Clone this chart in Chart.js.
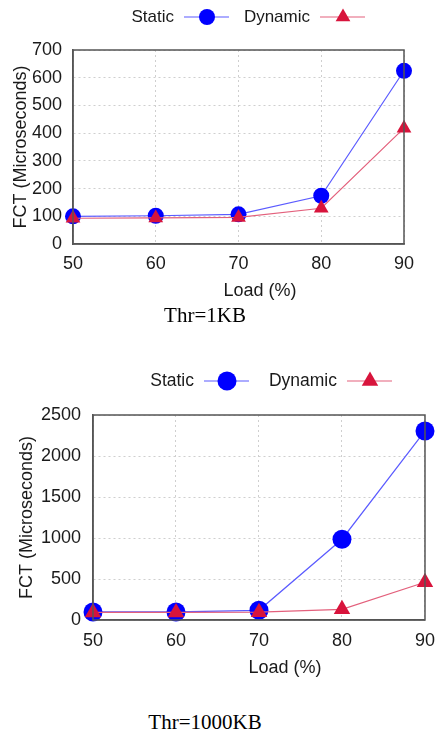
<!DOCTYPE html>
<html>
<head>
<meta charset="utf-8">
<script src="https://cdn.jsdelivr.net/npm/chart.js@4"></script>
<style>
  html, body { margin: 0; padding: 0; background: #fff; }
  body { width: 445px; height: 732px; position: relative; overflow: hidden; }
  .wrap { position: absolute; left: 0; width: 445px; }
  .caption {
    position: absolute; left: 0; width: 410px; text-align: center;
    font-family: "Liberation Serif", "Times New Roman", serif;
    font-size: 21px; line-height: 21px; color: #000;
  }
</style>
</head>
<body>
<div class="wrap" style="top:0;height:305px"><canvas id="chart1" width="445" height="305"></canvas></div>
<div class="caption" style="top:305px">Thr=1KB</div>
<div class="wrap" style="top:340px;height:345px"><canvas id="chart2" width="445" height="345"></canvas></div>
<div class="caption" style="top:712px">Thr=1000KB</div>
<script>
const loads = ['50', '60', '70', '80', '90'];
const seriesNames = ['Static', 'Dynamic'];

// Thr=1KB
const static1 = [100, 102, 107, 174, 625];
const dynamic1 = [93, 94, 96, 129, 418];
const yTicks1 = [0, 100, 200, 300, 400, 500, 600, 700];

// Thr=1000KB
const static2 = [98, 98, 118, 985, 2305];
const dynamic2 = [92, 92, 95, 130, 460];
const yTicks2 = [0, 500, 1000, 1500, 2000, 2500];

const textColor = '#1a1a1a';
const frameColor = '#555';
const fontFamily = '"Liberation Sans", Arial, sans-serif';

// gnuplot style key (text, then line sample with marker) and the x title,
// which gnuplot puts a bit right of the plot centre
const keyPlugin = {
    id: 'gnuKey',
    afterDraw(chart, args, opts) {
        const ctx = chart.ctx;
        ctx.save();
        ctx.textBaseline = 'middle';
        ctx.fillStyle = textColor;
        ctx.font = '18px ' + fontFamily;
        ctx.textAlign = 'center';
        ctx.fillText(opts.xTitle, opts.xTitleX, opts.xTitleY);

        ctx.font = opts.fontSize + 'px ' + fontFamily;
        ctx.textAlign = 'right';
        chart.data.datasets.forEach((ds, i) => {
            const tr = opts.textRight[i];
            ctx.fillStyle = textColor;
            ctx.fillText(ds.label, tr, opts.y);
            ctx.strokeStyle = ds.borderColor;
            ctx.lineWidth = ds.borderWidth;
            ctx.beginPath();
            ctx.moveTo(tr + 10, opts.y);
            ctx.lineTo(tr + 55, opts.y);
            ctx.stroke();
            ctx.fillStyle = ds.pointBackgroundColor;
            ctx.strokeStyle = ds.pointBackgroundColor;
            Chart.helpers.drawPoint(ctx, {
                pointStyle: ds.pointStyle,
                radius: ds.pointRadius,
                rotation: 0,
                borderWidth: 0
            }, tr + 33, opts.y);
        });
        ctx.restore();
    }
};

// box around the plot area
const framePlugin = {
    id: 'frame',
    afterDatasetsDraw(chart) {
        const a = chart.chartArea;
        const ctx = chart.ctx;
        ctx.save();
        ctx.strokeStyle = frameColor;
        ctx.lineWidth = 1.5;
        ctx.strokeRect(a.left, a.top, a.right - a.left, a.bottom - a.top);
        ctx.restore();
    }
};

function makeChart(id, s, d, yTicks, cfg) {
    const ctx = document.getElementById(id).getContext('2d');
    return new Chart(ctx, {
        type: 'line',
        data: {
            labels: loads,
            datasets: [{
                label: seriesNames[0],
                data: s,
                borderColor: '#5b5bff',
                borderWidth: 1.2,
                pointStyle: 'circle',
                pointRadius: cfg.circleR,
                pointBackgroundColor: '#0000ff',
                pointBorderColor: '#0000ff',
                pointBorderWidth: 0,
                tension: 0,
                fill: false,
                order: 2,
            }, {
                label: seriesNames[1],
                data: d,
                borderColor: '#e3607c',
                borderWidth: 1.2,
                pointStyle: 'triangle',
                pointRadius: cfg.triR,
                pointBackgroundColor: '#d8143c',
                pointBorderColor: '#d8143c',
                pointBorderWidth: 0,
                tension: 0,
                fill: false,
                order: 1,
            }]
        },
        options: {
            responsive: false,
            animation: false,
            events: [],
            clip: false,
            layout: {
                padding: { left: 5, right: cfg.padRight, top: cfg.padTop, bottom: 0 }
            },
            scales: {
                x: {
                    offset: false,
                    afterFit: (scale) => { scale.height = cfg.xHeight; },
                    ticks: {
                        color: textColor,
                        padding: cfg.xTickPad,
                        maxRotation: 0,
                        font: { family: fontFamily, size: 18 }
                    },
                    grid: {
                        display: true,
                        drawTicks: false,
                        color: '#cfcfcf',
                        lineWidth: 1,
                    },
                    border: { display: true, color: frameColor, width: 1.5, dash: [2, 3] },
                    title: { display: false }
                },
                y: {
                    min: yTicks[0],
                    max: yTicks[yTicks.length - 1],
                    afterFit: (scale) => { scale.width = cfg.yWidth; },
                    afterBuildTicks: (scale) => { scale.ticks = yTicks.map(v => ({ value: v })); },
                    ticks: {
                        color: textColor,
                        padding: cfg.yTickPad,
                        font: { family: fontFamily, size: 18 },
                        callback: (v) => String(v)
                    },
                    grid: {
                        display: true,
                        drawTicks: false,
                        color: '#cfcfcf',
                        lineWidth: 1,
                    },
                    border: { display: true, color: frameColor, width: 1.5, dash: [2, 3] },
                    title: {
                        display: true,
                        text: 'FCT (Microseconds)',
                        color: textColor,
                        padding: { top: cfg.yTitlePad, bottom: 0 },
                        font: { family: fontFamily, size: 18 }
                    }
                }
            },
            plugins: {
                legend: { display: false },
                tooltip: { enabled: false },
                gnuKey: {
                    y: cfg.keyY, textRight: cfg.keyRight, fontSize: cfg.keyFont,
                    xTitle: 'Load (%)', xTitleX: cfg.xTitleX, xTitleY: cfg.xTitleY
                }
            }
        },
        plugins: [keyPlugin, framePlugin]
    });
}

makeChart('chart1', static1, dynamic1, yTicks1, {
    padTop: 50, padRight: 41, xHeight: 61, yWidth: 68,
    xTickPad: 9, yTickPad: 11, yTitlePad: 5,
    xTitleX: 260, xTitleY: 291,
    circleR: 8, triR: 8.5,
    keyY: 17, keyRight: [174, 310], keyFont: 17
});
makeChart('chart2', static2, dynamic2, yTicks2, {
    padTop: 75, padRight: 14, xHeight: 65, yWidth: 88,
    xTickPad: 10, yTickPad: 12, yTitlePad: 11,
    xTitleX: 285, xTitleY: 328,
    circleR: 9.5, triR: 9.5,
    keyY: 41, keyRight: [194, 337], keyFont: 17.5
});
</script>
</body>
</html>
